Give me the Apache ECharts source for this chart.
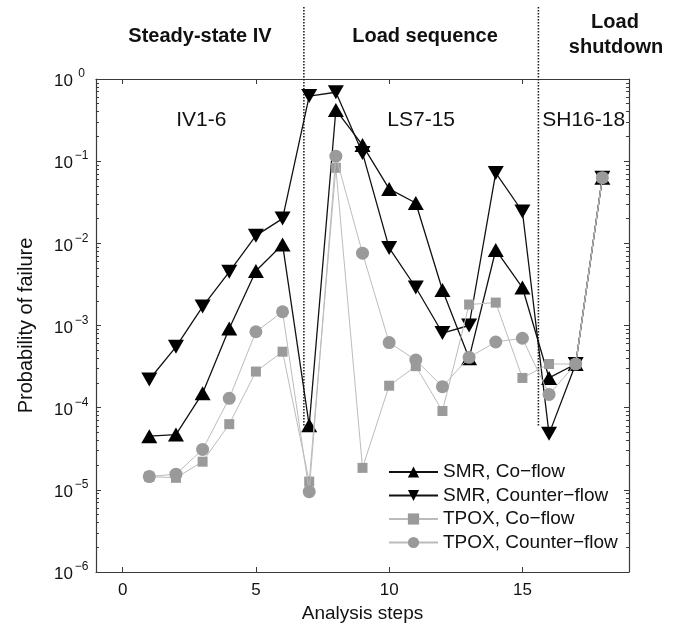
<!DOCTYPE html>
<html>
<head>
<meta charset="utf-8">
<script src="https://cdn.jsdelivr.net/npm/echarts@6/dist/echarts.min.js"></script>
<style>
  html, body { margin: 0; padding: 0; background: #fff; }
  #chart { width: 676px; height: 629px; }
</style>
</head>
<body>
<div id="chart"></div>
<script>
// Analysis steps and failure probabilities per reformer / flow arrangement
const steps = [1, 2, 3, 4, 5, 6, 7, 8, 9, 10, 11, 12, 13, 14, 15, 16, 17, 18];
const smrCoFlow = [4.5e-5, 4.7e-5, 1.5e-4, 9.2e-4, 4.6e-3, 9.7e-3, 6.1e-5, 0.42, 0.157, 0.046, 0.031, 2.7e-3, 4.0e-4, 8.3e-3, 2.9e-3, 2.3e-4, 3.4e-4, 0.063];
const smrCounterFlow = [2.2e-4, 5.5e-4, 1.7e-3, 4.5e-3, 0.0124, 0.020, 0.62, 0.69, 0.126, 8.8e-3, 2.9e-3, 8.1e-4, 1.0e-3, 0.072, 0.0244, 4.8e-5, 3.4e-4, 0.063];
const tpoxCoFlow = [1.45e-5, 1.4e-5, 2.2e-5, 6.3e-5, 2.75e-4, 4.8e-4, 1.26e-5, 0.083, 1.85e-5, 1.85e-4, 3.2e-4, 9.1e-5, 1.8e-3, 1.9e-3, 2.3e-4, 3.4e-4, 3.4e-4, 0.063];
const tpoxCounterFlow = [1.45e-5, 1.55e-5, 3.1e-5, 1.3e-4, 8.4e-4, 1.47e-3, 9.5e-6, 0.115, 7.6e-3, 6.2e-4, 3.8e-4, 1.8e-4, 4.1e-4, 6.3e-4, 7.0e-4, 1.45e-4, 3.4e-4, 0.063];

const seriesNames = ['SMR, Co\u2212flow', 'SMR, Counter\u2212flow', 'TPOX, Co\u2212flow', 'TPOX, Counter\u2212flow'];
const xTicks = [0, 5, 10, 15];
const phaseBounds = [6.8, 15.6];          // step positions of the phase separators
const phaseBoundBottom = 6e-5;            // lower end of the separators
const phaseTitles = ['Steady-state IV', 'Load sequence'];
const phaseLabels = ['IV1-6', 'LS7-15', 'SH16-18'];

// decade minor ticks expressed as exponents
const minorExp = [];
for (let e = -6; e < 0; e++) {
  for (let k = 2; k <= 9; k++) minorExp.push(e + Math.log10(k));
}
const majorExp = [-6, -5, -4, -3, -2, -1, 0];

const FONT = '"Liberation Sans", Arial, Helvetica, sans-serif';
const AXIS = '#3a3a3a';

const pairs = arr => steps.map((s, i) => [s, arr[i]]);

const chart = echarts.init(document.getElementById('chart'), null, { renderer: 'canvas' });

const frameAxisLine = { show: true, onZero: false, lineStyle: { color: AXIS, width: 1.2 } };
const noAxisLine = { show: false, onZero: false };

const option = {
  animation: false,
  backgroundColor: '#fff',
  textStyle: { fontFamily: FONT },
  grid: { left: 96, right: 47, top: 79, bottom: 57, containLabel: false },
  legend: {
    orient: 'vertical',
    left: 383,
    top: 457,
    itemWidth: 49,
    itemHeight: 14,
    itemGap: 3.5,
    textStyle: { fontFamily: FONT, fontSize: 19, color: '#111', lineHeight: 20 },
    data: seriesNames
  },
  xAxis: [
    {
      type: 'value', min: -1, max: 19, position: 'bottom',
      name: 'Analysis steps', nameLocation: 'middle', nameGap: 30,
      nameTextStyle: { fontFamily: FONT, fontSize: 19, color: '#111' },
      axisLine: frameAxisLine,
      axisTick: { show: true, inside: true, length: 5, customValues: xTicks, lineStyle: { color: AXIS } },
      axisLabel: { customValues: xTicks, margin: 10, fontSize: 17, color: '#111', fontFamily: FONT },
      splitLine: { show: false }
    },
    {
      type: 'value', min: -1, max: 19, position: 'top',
      axisLine: frameAxisLine,
      axisTick: { show: true, inside: true, length: 5, customValues: xTicks, lineStyle: { color: AXIS } },
      axisLabel: { show: false },
      splitLine: { show: false }
    }
  ],
  yAxis: [
    {
      type: 'log', logBase: 10, min: 1e-6, max: 1, interval: 1, position: 'left',
      name: 'Probability of failure', nameLocation: 'middle', nameGap: 60, nameRotate: 90,
      nameTextStyle: { fontFamily: FONT, fontSize: 20, color: '#111' },
      axisLine: frameAxisLine,
      axisTick: { show: true, inside: true, length: 5, lineStyle: { color: AXIS } },
      axisLabel: {
        margin: 6,
        formatter: v => {
          const e = Math.round(Math.log10(v));
          return '{b|10}{s|' + (e < 0 ? '\u2212' + (-e) : e) + '}';
        },
        rich: {
          b: { fontSize: 17, fontFamily: FONT, color: '#111', verticalAlign: 'bottom', lineHeight: 18 },
          s: { fontSize: 12, fontFamily: FONT, color: '#111', verticalAlign: 'bottom', padding: [0, 0, 10, 0], width: 17, align: 'left' }
        }
      },
      splitLine: { show: false }
    },
    {
      type: 'value', min: -6, max: 0, position: 'left',
      axisLine: noAxisLine,
      axisTick: { show: true, inside: true, length: 3, customValues: minorExp, lineStyle: { color: AXIS } },
      axisLabel: { show: false },
      splitLine: { show: false }
    },
    {
      type: 'value', min: -6, max: 0, position: 'right',
      axisLine: frameAxisLine,
      axisTick: { show: true, inside: true, length: 5, customValues: majorExp, lineStyle: { color: AXIS } },
      axisLabel: { show: false },
      splitLine: { show: false }
    },
    {
      type: 'value', min: -6, max: 0, position: 'right',
      axisLine: noAxisLine,
      axisTick: { show: true, inside: true, length: 3, customValues: minorExp, lineStyle: { color: AXIS } },
      axisLabel: { show: false },
      splitLine: { show: false }
    }
  ],
  series: [
    {
      name: seriesNames[0], type: 'line', data: pairs(smrCoFlow),
      symbol: 'triangle', symbolSize: [16, 14],
      itemStyle: { color: '#000' }, lineStyle: { color: '#111', width: 1.3 }, z: 3
    },
    {
      name: seriesNames[1], type: 'line', data: pairs(smrCounterFlow),
      symbol: 'triangle', symbolRotate: 180, symbolSize: [16, 14],
      itemStyle: { color: '#000' }, lineStyle: { color: '#111', width: 1.3 }, z: 4
    },
    {
      name: seriesNames[2], type: 'line', data: pairs(tpoxCoFlow),
      symbol: 'rect', symbolSize: 10,
      itemStyle: { color: '#9a9a9a' }, lineStyle: { color: '#bcbcbc', width: 1 }, z: 5
    },
    {
      name: seriesNames[3], type: 'line', data: pairs(tpoxCounterFlow),
      symbol: 'circle', symbolSize: 13,
      itemStyle: { color: '#9a9a9a' }, lineStyle: { color: '#bcbcbc', width: 1 }, z: 6
    }
  ]
};

chart.setOption(option);

// Phase separators, phase headings and in-plot phase labels
const labelY = 120;
const px = (x, y) => chart.convertToPixel({ xAxisIndex: 0, yAxisIndex: 0 }, [x, y]);

const graphics = [];
phaseBounds.forEach(b => {
  const p = px(b, phaseBoundBottom);
  graphics.push({
    type: 'line', z: 1, silent: true,
    shape: { x1: p[0], y1: 7, x2: p[0], y2: p[1] },
    style: { stroke: '#222', lineWidth: 1.6, lineDash: [1.5, 1.5] }
  });
});

const headFont = 'bold 20px ' + FONT;
const addText = (text, x, y, font) => graphics.push({
  type: 'text', z: 10, silent: true,
  style: { text, x, y, font, fill: '#111', textAlign: 'center', textVerticalAlign: 'middle' }
});

addText(phaseTitles[0], 200, 36, headFont);
addText(phaseTitles[1], 425, 36, headFont);
addText('Load', 615, 22, headFont);
addText('shutdown', 616, 47, headFont);

const labelFont = '21px ' + FONT;
addText(phaseLabels[0], px(2.95, 1)[0], labelY, labelFont);
addText(phaseLabels[1], px(11.2, 1)[0], labelY, labelFont);
addText(phaseLabels[2], px(17.3, 1)[0], labelY, labelFont);

chart.setOption({ graphic: graphics });
</script>
</body>
</html>
